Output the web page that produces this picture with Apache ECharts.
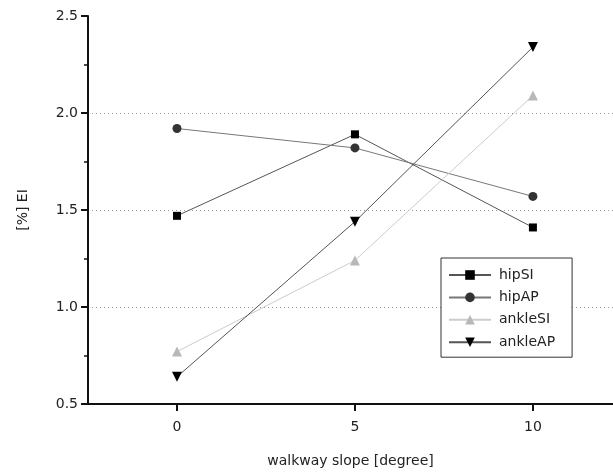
<!DOCTYPE html>
<html>
<head>
<meta charset="utf-8">
<script src="https://cdn.jsdelivr.net/npm/echarts@6/dist/echarts.min.js"></script>
<style>html,body{margin:0;padding:0;background:#fff;overflow:hidden;}#c{width:613px;height:473px;}</style>
</head>
<body>
<div id="c"></div>
<script>
const slopes = [0, 5, 10];
const xTicks = [0, 5, 10];
const hipSI = [1.47, 1.89, 1.41];
const hipAP = [1.92, 1.82, 1.57];
const ankleSI = [0.77, 1.24, 2.09];
const ankleAP = [0.64, 1.44, 2.34];
const seriesNames = ['hipSI', 'hipAP', 'ankleSI', 'ankleAP'];

const FONT = 'DejaVu Sans';
const chart = echarts.init(document.getElementById('c'), null, {renderer: 'canvas'});

function pairs(vals) { return slopes.map((s, i) => [s, vals[i]]); }

function mk(name, vals, symbol, size, markColor, lineColor, rotate) {
  return {
    name: name, type: 'line', data: pairs(vals),
    symbol: symbol, symbolSize: size, symbolRotate: rotate || 0,
    showAllSymbol: true,
    itemStyle: {color: markColor},
    lineStyle: {color: lineColor, width: 1},
    emphasis: {disabled: true},
    z: 3
  };
}

chart.setOption({
  animation: false,
  backgroundColor: '#fff',
  textStyle: {fontFamily: FONT},
  grid: {left: 88, right: 0, top: 16, bottom: 65.5, containLabel: false},
  legend: {
    orient: 'vertical', left: 441, top: 258,
    data: seriesNames,
    itemWidth: 42, itemHeight: 12, itemGap: 8.4,
    padding: [10, 17, 8, 7],
    borderColor: '#333', borderWidth: 1, backgroundColor: '#fff',
    textStyle: {fontFamily: FONT, fontSize: 14, color: '#222', padding: [0, 0, 0, 3]},
    z: 5
  },
  xAxis: {
    type: 'value', min: -2.5, max: 12.25,
    name: 'walkway slope [degree]', nameLocation: 'middle', nameGap: 50,
    nameTextStyle: {fontFamily: FONT, fontSize: 14, color: '#222'},
    axisLine: {show: true, onZero: false, lineStyle: {color: '#111', width: 2}},
    axisTick: {show: true, customValues: xTicks, length: 7, lineStyle: {color: '#111', width: 2}},
    axisLabel: {customValues: xTicks, fontFamily: FONT, fontSize: 14, color: '#222', margin: 16},
    splitLine: {show: false}
  },
  yAxis: {
    type: 'value', min: 0.5, max: 2.5, interval: 0.5,
    name: '[%] EI', nameLocation: 'middle', nameGap: 58,
    nameTextStyle: {fontFamily: FONT, fontSize: 14, color: '#222'},
    axisLine: {show: true, onZero: false, lineStyle: {color: '#111', width: 2}},
    axisTick: {show: true, length: 7, lineStyle: {color: '#111', width: 2}},
    minorTick: {show: true, splitNumber: 2, length: 4, lineStyle: {color: '#111', width: 1.5}},
    axisLabel: {fontFamily: FONT, fontSize: 14, color: '#222', margin: 10,
      formatter: v => v.toFixed(1)},
    splitLine: {show: true, showMinLine: false, showMaxLine: false,
      lineStyle: {color: '#999', width: 1, type: [1, 3]}}
  },
  series: [
    mk('hipSI', hipSI, 'rect', 8, '#000', '#555'),
    mk('hipAP', hipAP, 'circle', 9, '#333', '#777'),
    mk('ankleSI', ankleSI, 'triangle', 10, '#b8b8b8', '#cccccc'),
    mk('ankleAP', ankleAP, 'triangle', 10, '#000', '#555', 180)
  ]
});
</script>
</body>
</html>
